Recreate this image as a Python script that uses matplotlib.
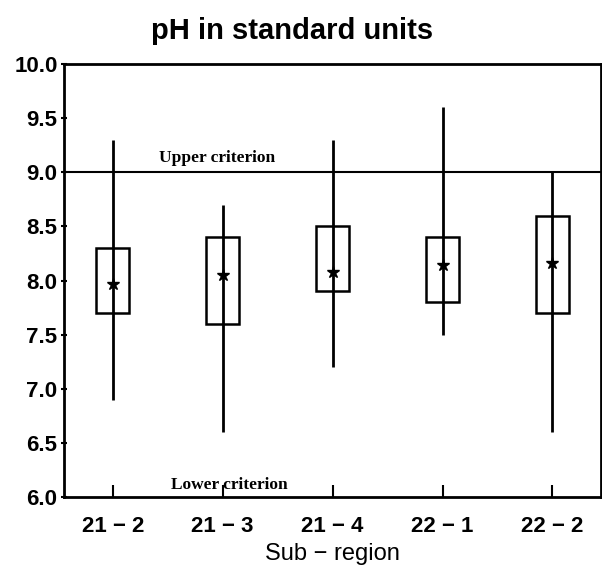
import numpy as np
import matplotlib
matplotlib.use("Agg")
import matplotlib.pyplot as plt

plt.rcParams['font.family'] = ['Liberation Sans', 'DejaVu Sans']

# sub-regions and pH statistics
regions = ['21 \u2212 2', '21 \u2212 3', '21 \u2212 4', '22 \u2212 1', '22 \u2212 2']
ph_min = [6.9, 6.6, 7.2, 7.5, 6.6]
ph_max = [9.3, 8.7, 9.3, 9.6, 9.0]
box_low = [7.7, 7.6, 7.9, 7.8, 7.7]
box_high = [8.3, 8.4, 8.5, 8.4, 8.6]
ph_mean = [7.97, 8.05, 8.08, 8.14, 8.16]
upper_crit = 9.0
lower_crit = 6.0

fig = plt.figure(figsize=(6.02, 5.68), dpi=100)
ax = fig.add_axes([0.106, 0.125, 0.892, 0.762])

x = np.arange(1, len(regions) + 1)
w = 0.3
for xi, lo, hi, bl, bh, m in zip(x, ph_min, ph_max, box_low, box_high, ph_mean):
    ax.plot([xi, xi], [lo, hi], color='black', lw=2, solid_capstyle='butt')
    ax.add_patch(plt.Rectangle((xi - w / 2, bl), w, bh - bl, fill=False,
                               edgecolor='black', lw=1.8))
    ax.plot(xi, m, marker='*', color='black', ms=9)

ax.axhline(upper_crit, color='black', lw=1.5)
ax.text(1.95, upper_crit + 0.06, 'Upper criterion', family='Liberation Serif',
        fontweight='bold', fontsize=12.5, ha='center', va='bottom')
ax.text(2.06, lower_crit + 0.04, 'Lower criterion', family='Liberation Serif',
        fontweight='bold', fontsize=12.5, ha='center', va='bottom')

ax.set_xlim(0.555, 5.44)
ax.set_ylim(6.0, 10.0)
ax.set_xticks(x)
ax.set_xticklabels(regions, fontsize=16, fontweight='bold')
ax.set_yticks(np.arange(6.0, 10.01, 0.5))
ax.set_yticklabels(['%.1f' % v for v in np.arange(6.0, 10.01, 0.5)],
                   fontsize=16, fontweight='bold')
ax.tick_params(axis='x', direction='in', length=9, width=1.5, pad=14)
ax.tick_params(axis='y', direction='inout', length=5, width=1.5, pad=2)
for s in ax.spines.values():
    s.set_linewidth(2)

ax.set_xlabel('Sub \u2212 region', fontsize=17, labelpad=4)
fig.text(0.485, 0.945, 'pH in standard units', fontsize=21, fontweight='bold',
         ha='center', va='center')

fig.savefig('out.png', dpi=100)
